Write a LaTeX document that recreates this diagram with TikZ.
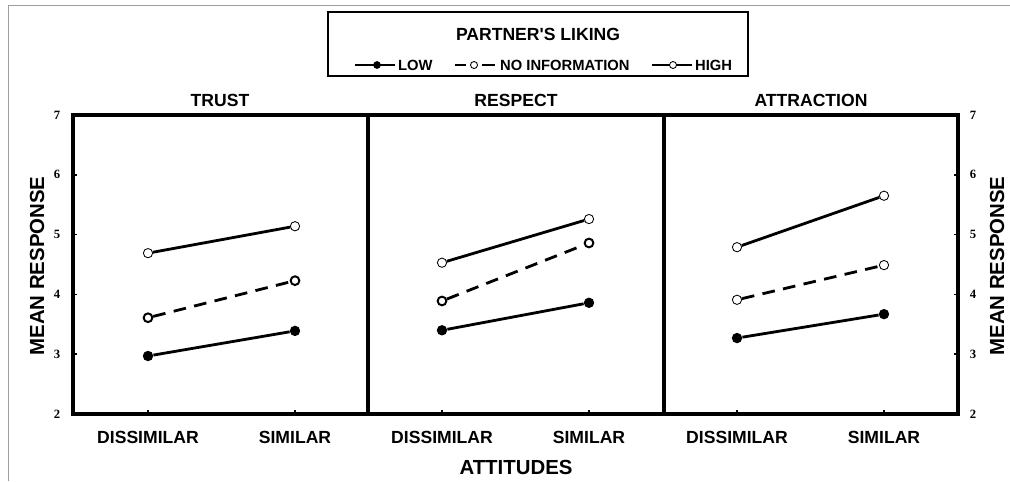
\documentclass[tikz,border=0pt]{standalone}
\usepackage{fontspec}
\setmainfont{Liberation Sans}
\newfontfamily\numfont{Liberation Serif}
\usetikzlibrary{positioning}
% mean response -> picture row
\newcommand{\mr}[1]{115+(7-#1)*59.8}
\tikzset{
  edgeline/.style={draw=black!38,line width=1.1pt},
  plotframe/.style={line width=2.6pt,line cap=rect},
  tickmark/.style={line width=1.2pt},
  dataline/.style={line width=2pt},
  noinfoline/.style={dataline,dash pattern=on 9pt off 6pt},
  lowmark/.style={circle,fill=black,inner sep=0pt,minimum size=7.4pt},
  openmark/.style={circle,draw=black,fill=white,inner sep=0pt,
    minimum size=6.6pt,line width=0.6pt},
  boldmark/.style={openmark,line width=1.4pt,minimum size=6.2pt},
  legendbox/.style={draw,line width=2pt,minimum width=10.5cm,
    minimum height=1.6cm,inner sep=0pt},
  legtitle/.style={font=\bfseries\fontsize{12.5}{13}\selectfont},
  legtext/.style={font=\bfseries\fontsize{10.5}{11}\selectfont,
    inner sep=0pt,anchor=west},
  paneltitle/.style={font=\bfseries\fontsize{12.5}{13}\selectfont},
  catlabel/.style={font=\bfseries\fontsize{12.5}{13}\selectfont},
  axistitle/.style={font=\bfseries\fontsize{14.5}{15}\selectfont},
  ticknum/.style={font=\numfont\bfseries\fontsize{9}{10}\selectfont},
}
\begin{document}
\begin{tikzpicture}[x=0.025cm,y=-0.025cm]
  \useasboundingbox (0,0) rectangle (1010,481);
  \draw[edgeline] (8.5,481) -- (8.5,5.5) -- (1010,5.5);

  % legend
  \node[legendbox] (legend) at (538,44) {};
  \node[legtitle] (legtitle) at (538,34) {PARTNER\textquotesingle S LIKING};
  \coordinate (lowA) at (355,65);
  \coordinate (lowB) at (395,65);
  \draw[dataline] (lowA) -- (lowB);
  \node[lowmark,minimum size=5.5pt] (lowM) at (377,65) {};
  \node[legtext,right=2pt of lowB] (lowT) {LOW};
  \coordinate (niA) at (455,65);
  \coordinate (niB) at (495,65);
  \node[openmark,minimum size=5pt] (niM) at (474,65) {};
  \draw[dataline,shorten >=3pt] (niA) -- (niM);
  \draw[dataline,shorten <=3pt] (niM) -- (niB);
  \node[legtext,right=3.5pt of niB] (niT) {NO INFORMATION};
  \coordinate (hiA) at (652,65);
  \coordinate (hiB) at (692,65);
  \draw[dataline] (hiA) -- (hiB);
  \node[openmark,minimum size=5pt] (hiM) at (673,65) {};
  \node[legtext,right=2pt of hiB] (hiT) {HIGH};

  % panel titles
  \node[paneltitle] (trust) at (220,100) {TRUST};
  \node[paneltitle] (respect) at (516,100) {RESPECT};
  \node[paneltitle] (attraction) at (811,100) {ATTRACTION};

  % frame and axes
  \draw[plotframe] (73,115) rectangle (958,414);
  \draw[plotframe] (368,115) -- (368,414);
  \draw[plotframe] (664,115) -- (664,414);
  \foreach \v in {3,...,6} {
    \draw[tickmark] (73,{\mr{\v}}) -- ++(4,0);
    \draw[tickmark] (958,{\mr{\v}}) -- ++(-4,0);
  }
  \foreach \x in {148,295,442,589,737,884}
    \draw[tickmark] (\x,414) -- ++(0,-4);
  \foreach \v in {2,...,7} {
    \node[ticknum] (tl\v) at (57,{\mr{\v}}) {\v};
    \node[ticknum] (tr\v) at (973,{\mr{\v}}) {\v};
  }
  \node[axistitle,rotate=90] (ylabL) at (37,266) {MEAN RESPONSE};
  \node[axistitle,rotate=90] (ylabR) at (997,266) {MEAN RESPONSE};
  \foreach \x/\t [count=\i] in {148/DISSIMILAR,295/SIMILAR,442/DISSIMILAR,
      589/SIMILAR,737/DISSIMILAR,884/SIMILAR}
    \node[catlabel] (cat\i) at (\x,437) {\t};
  \node[axistitle] (xlab) at (516,467) {ATTITUDES};

  % trust
  \node[openmark] (t-hi-d) at (148,{\mr{4.69}}) {};
  \node[openmark] (t-hi-s) at (295,{\mr{5.14}}) {};
  \node[boldmark] (t-ni-d) at (148,{\mr{3.61}}) {};
  \node[boldmark] (t-ni-s) at (295,{\mr{4.23}}) {};
  \node[lowmark] (t-lo-d) at (148,{\mr{2.97}}) {};
  \node[lowmark] (t-lo-s) at (295,{\mr{3.39}}) {};
  \draw[dataline] (t-hi-d) -- (t-hi-s);
  \draw[noinfoline] (t-ni-d) -- (t-ni-s);
  \draw[dataline] (t-lo-d) -- (t-lo-s);

  % respect
  \node[openmark] (r-hi-d) at (442,{\mr{4.53}}) {};
  \node[openmark] (r-hi-s) at (589,{\mr{5.26}}) {};
  \node[boldmark] (r-ni-d) at (442,{\mr{3.89}}) {};
  \node[boldmark] (r-ni-s) at (589,{\mr{4.86}}) {};
  \node[lowmark] (r-lo-d) at (442,{\mr{3.40}}) {};
  \node[lowmark] (r-lo-s) at (589,{\mr{3.86}}) {};
  \draw[dataline] (r-hi-d) -- (r-hi-s);
  \draw[noinfoline] (r-ni-d) -- (r-ni-s);
  \draw[dataline] (r-lo-d) -- (r-lo-s);

  % attraction
  \node[openmark] (a-hi-d) at (737,{\mr{4.79}}) {};
  \node[openmark] (a-hi-s) at (884,{\mr{5.65}}) {};
  \node[openmark] (a-ni-d) at (737,{\mr{3.91}}) {};
  \node[openmark] (a-ni-s) at (884,{\mr{4.49}}) {};
  \node[lowmark] (a-lo-d) at (737,{\mr{3.27}}) {};
  \node[lowmark] (a-lo-s) at (884,{\mr{3.67}}) {};
  \draw[dataline] (a-hi-d) -- (a-hi-s);
  \draw[noinfoline] (a-ni-d) -- (a-ni-s);
  \draw[dataline] (a-lo-d) -- (a-lo-s);
\end{tikzpicture}
\end{document}
